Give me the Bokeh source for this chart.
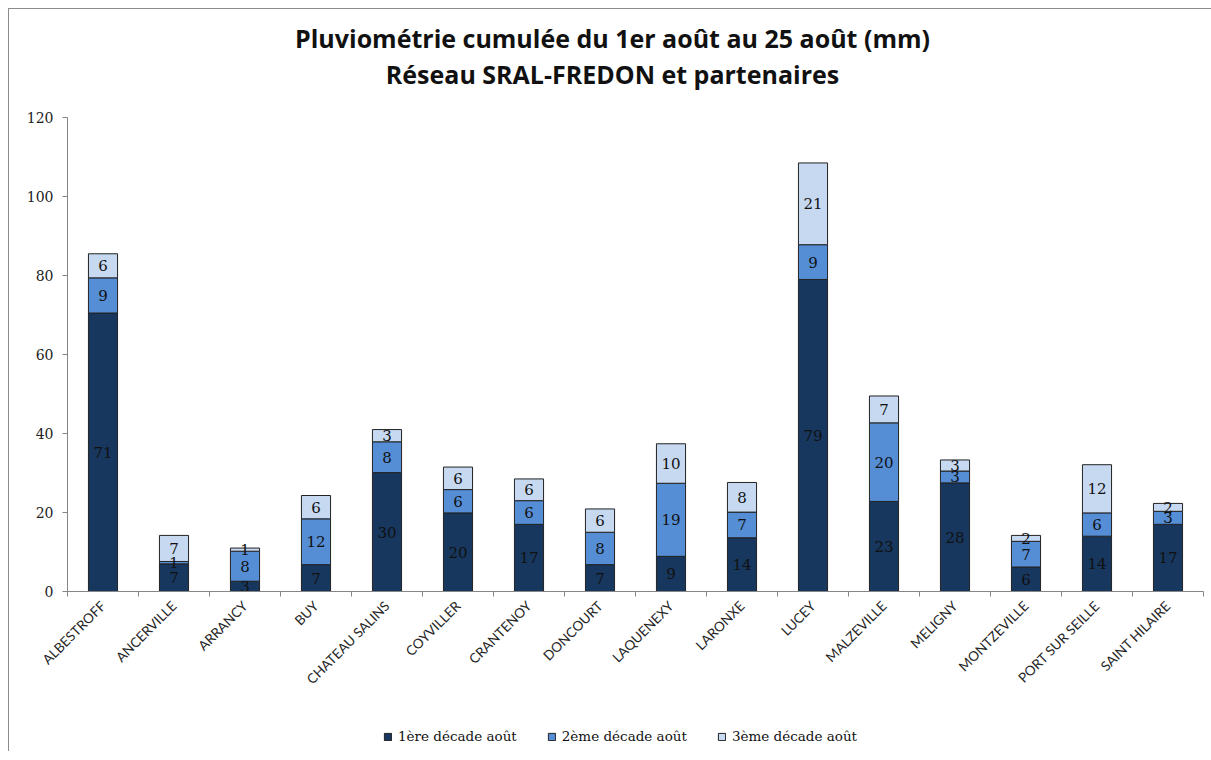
import math
from bokeh.plotting import figure
from bokeh.layouts import column
from bokeh.models import ColumnDataSource, FixedTicker, Legend, LegendItem, Range1d
from bokeh.embed import file_html
from bokeh.resources import INLINE
from bokeh.core.properties import value

# ---- data ----
stations = ["ALBESTROFF", "ANCERVILLE", "ARRANCY", "BUY", "CHATEAU SALINS", "COYVILLER",
            "CRANTENOY", "DONCOURT", "LAQUENEXY", "LARONXE", "LUCEY", "MALZEVILLE",
            "MELIGNY", "MONTZEVILLE", "PORT SUR SEILLE", "SAINT HILAIRE"]
decade1 = [70.5, 7.0, 2.6, 6.8, 30.1, 19.9, 17.0, 6.8, 8.9, 13.6, 79.0, 22.8, 27.5, 6.2, 14.0, 17.0]
decade2 = [8.9, 0.6, 7.6, 11.6, 7.8, 5.9, 6.0, 8.2, 18.5, 6.5, 8.8, 19.9, 3.0, 6.5, 5.9, 3.3]
decade3 = [6.1, 6.6, 0.8, 5.9, 3.1, 5.7, 5.5, 5.9, 10.0, 7.5, 20.7, 6.8, 2.8, 1.5, 12.2, 2.0]
series_names = ["1ère décade août", "2ème décade août", "3ème décade août"]
colors = ["#17375E", "#558ED5", "#C6D9F1"]
y_ticks = [0, 20, 40, 60, 80, 100, 120]
title_lines = ["Pluviométrie cumulée du 1er août au 25 août (mm)",
               "Réseau SRAL-FREDON et partenaires"]

n = len(stations)
xs = [i + 0.5 for i in range(n)]
series = [decade1, decade2, decade3]
keys = ["d1", "d2", "d3"]

# ---- layout constants (pixels) ----
LEFT, RIGHT, FRAME_W = 58, 8, 1136
TITLE_H = 95
TITLE_CX = 545              # title centre, measured from the frame's left edge
TITLE_BASELINES = [28, 64]  # baselines, measured from the top of the title strip

src = ColumnDataSource(dict(x=xs, d1=decade1, d2=decade2, d3=decade3))

# label positions (center of each segment)
lx, ly, lt = [], [], []
base = [0.0] * n
for vals in series:
    for i, v in enumerate(vals):
        lx.append(xs[i])
        ly.append(base[i] + v / 2.0)
        lt.append(str(int(v + 0.5)))
    base = [b + v for b, v in zip(base, vals)]
lab_src = ColumnDataSource(dict(x=lx, y=ly, t=lt))

# ---- title strip ----
p0 = figure(frame_width=FRAME_W, frame_height=TITLE_H, output_backend="svg",
            toolbar_location=None, x_range=Range1d(0, FRAME_W), y_range=Range1d(0, TITLE_H),
            x_axis_type=None, y_axis_type=None, title=None,
            min_border_left=LEFT, min_border_right=RIGHT, min_border_top=0, min_border_bottom=0)
p0.grid.visible = False
p0.outline_line_color = None
p0.text(x=[TITLE_CX] * len(title_lines), y=[TITLE_H - b for b in TITLE_BASELINES],
        text=title_lines, text_align="center", text_baseline="alphabetic",
        text_font=value("Open Sans"), text_font_size="25px", text_font_style="bold",
        text_color="#111111")

# ---- main chart ----
p = figure(frame_width=FRAME_W, frame_height=474, output_backend="svg", toolbar_location=None,
           x_range=Range1d(0, n), y_range=Range1d(0, 120), title=None,
           min_border_left=LEFT, min_border_right=RIGHT, min_border_top=13, min_border_bottom=110)

renderers = p.vbar_stack(keys, x="x", width=0.41, color=colors, line_color="#222222",
                         line_width=1, source=src)

p.text(x="x", y="y", text="t", source=lab_src, text_align="center", text_baseline="middle",
       text_font=value("DejaVu Serif"), text_font_size="15px", text_color="#111111")

p.xgrid.visible = False
p.ygrid.visible = False
p.outline_line_color = None

xa = p.xaxis[0]
xa.ticker = FixedTicker(ticks=xs, minor_ticks=list(range(n + 1)))
xa.major_label_overrides = {x: s for x, s in zip(xs, stations)}
xa.major_label_orientation = math.pi / 4
xa.major_tick_line_color = None
xa.minor_tick_out = 5
xa.minor_tick_in = 0
xa.minor_tick_line_color = "#868686"
xa.axis_line_color = "#868686"
xa.major_label_text_font = "Lato"
xa.major_label_text_font_size = "13.5px"
xa.major_label_text_color = "#262626"
xa.major_label_standoff = 6

ya = p.yaxis[0]
ya.ticker = FixedTicker(ticks=y_ticks)
ya.major_tick_out = 5
ya.major_tick_in = 0
ya.minor_tick_line_color = None
ya.major_tick_line_color = "#868686"
ya.axis_line_color = "#868686"
ya.major_label_text_font = "DejaVu Serif"
ya.major_label_text_font_size = "14px"
ya.major_label_text_color = "#222222"
ya.major_label_standoff = 9

# ---- legend strip (hidden renderers: only their legend swatches are drawn) ----
p2 = figure(frame_width=FRAME_W, frame_height=50, output_backend="svg", toolbar_location=None,
            x_range=Range1d(0, n), y_range=Range1d(0, 120), x_axis_type=None, y_axis_type=None,
            title=None, min_border_left=LEFT, min_border_right=RIGHT,
            min_border_top=0, min_border_bottom=0)
p2.grid.visible = False
p2.outline_line_color = None
leg_r = [p2.vbar(x="x", top=k, width=0.41, color=c, line_color="#222222", line_width=1,
                 source=src, visible=False)
         for k, c in zip(keys, colors)]
legend = Legend(items=[LegendItem(label=nm, renderers=[r]) for nm, r in zip(series_names, leg_r)],
                orientation="horizontal", location=(316, 7), border_line_color=None,
                background_fill_alpha=0, glyph_width=9, glyph_height=9, spacing=30,
                padding=0, margin=0, label_standoff=6, inactive_fill_alpha=0,
                label_text_font="DejaVu Serif", label_text_font_size="13.5px",
                label_text_color="#111111")
p2.add_layout(legend, "center")

layout = column(p0, p, p2, spacing=0,
                styles={"margin-left": "8px", "margin-top": "8px",
                        "border-left": "1px solid #8c8c8c", "border-top": "1px solid #8c8c8c"})

open("out.html", "w").write(file_html(layout, INLINE))
